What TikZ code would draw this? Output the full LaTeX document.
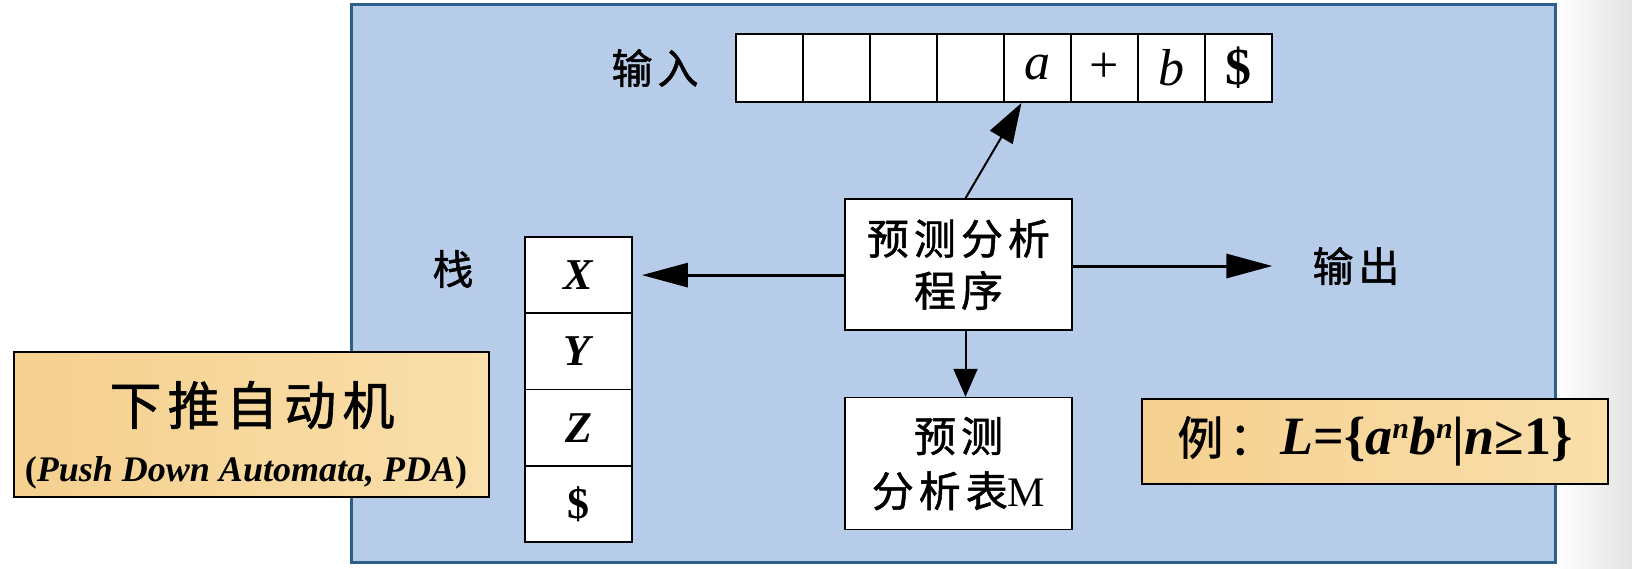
\documentclass[tikz,border=0pt]{standalone}
\usepackage{fontspec}
\setmainfont{Liberation Serif}
\newfontfamily\cjk[LetterSpace=12, FakeBold=1.2]{Noto Sans CJK SC}
\usepackage{tikz}
\usetikzlibrary{positioning}
\usetikzlibrary{arrows.meta}
\usetikzlibrary{calc}

\definecolor{panelblue}{HTML}{B7CCE9}
\definecolor{paneledge}{HTML}{2D5F88}
\definecolor{noteleft}{HTML}{F5D08F}
\definecolor{noteright}{HTML}{F9DFAA}
\definecolor{edgegray}{HTML}{E3E3E3}

\newcommand{\pxsize}[2]{\fontsize{#1}{#2}\selectfont}

\begin{document}
\begin{tikzpicture}
			[
				x = 1pt, y = -1pt,
				myblock/.style = {draw, rectangle, line width = 1.6pt, fill = white, minimum width = 227pt, inner sep = 0pt, align = center},
				mycell/.style = {draw, rectangle, line width = 1.8pt, fill = white, inner sep = 0pt},
				mynote/.style = {draw, rectangle, line width = 1.4pt, left color = noteleft, right color = noteright, inner sep = 0pt},
				mylabel/.style = {inner sep = 0pt, font = \cjk\pxsize{41}{46}},
				myarrow/.style = {-{Triangle[length = 46pt, width = 24pt]}, line width = 3pt},
				mythinarrow/.style = {-{Triangle[length = 40pt, width = 26pt]}, line width = 2pt},
				mydownarrow/.style = {-{Triangle[length = 28pt, width = 24pt]}, line width = 2pt}
			]
			%
			\useasboundingbox (0,0) rectangle (1632,568);
			\shade [left color = white, right color = edgegray] (1556,0) rectangle (1632,568);
			\draw [fill = panelblue, draw = paneledge, line width = 3pt] (351,4) rectangle (1555,562);
			%
			\foreach \s [count = \i from 0] in {{},{},{},{},\textit{a},+,\textit{b},\textbf{\$}}
				\node (in\i) [mycell, minimum width = 67pt, minimum height = 68pt, font = \pxsize{52}{58}] at (769.5+67*\i, 68) {\s};
			\node (input) [mylabel] at (655,68) {输入};
			%
			\foreach \s [count = \i from 0] in {\textit{X},\textit{Y},\textit{Z},\$}
				\node (st\i) [mycell, minimum width = 107pt, minimum height = 76.25pt, font = \bfseries\pxsize{44}{50}] at (578.5, 275.1+76.25*\i) {\s};
			\node (stack) [mylabel] at (453,269) {栈};
			%
			\node (prog) [myblock, minimum height = 131pt, font = \cjk\pxsize{42}{52}] at (958.5,264.5) {预测分析\\程序};
			\node (table) [myblock, minimum height = 132pt, below = 66pt of prog, font = \cjk\pxsize{42}{55}] {预测\\分析表{\rmfamily M}};
			\node (output) [mylabel] at (1356,266) {输出};
			%
			\draw [myarrow, shorten > = 9pt] (prog.west |- st0.east) -- (st0.east);
			\draw [myarrow, shorten > = 40pt] (prog.east |- output.west) -- (output.west);
			\draw [mythinarrow] ([xshift = 7pt]prog.north) -- ([xshift = -16pt]in4.south);
			\draw [mydownarrow] ([xshift = 7pt]prog.south) -- ([xshift = 7pt]table.north);
			%
			\node (pda) [mynote, minimum width = 475pt, minimum height = 145pt] at (251.5,424.5) {};
			\node (pdatitle) [inner sep = 0pt, font = \cjk\pxsize{52}{58}] at (252,405) {下推自动机};
			\node (pdaname) [inner sep = 0pt, font = \bfseries\pxsize{36}{42}] at (246,473) {(\textit{Push Down Automata, PDA})};
			%
			\node (example) [mynote, minimum width = 466pt, minimum height = 85pt, font = \pxsize{54}{60}] at (1375,441.5)
				{{\cjk\pxsize{46}{52}例：}\textbf{\textit{L}=\{\textit{a}\raisebox{0.3em}{\pxsize{30}{34}\textit{n}}\textit{b}\raisebox{0.3em}{\pxsize{30}{34}\textit{n}}|\textit{n}≥1\}}};
			%
		\end{tikzpicture}
\end{document}
